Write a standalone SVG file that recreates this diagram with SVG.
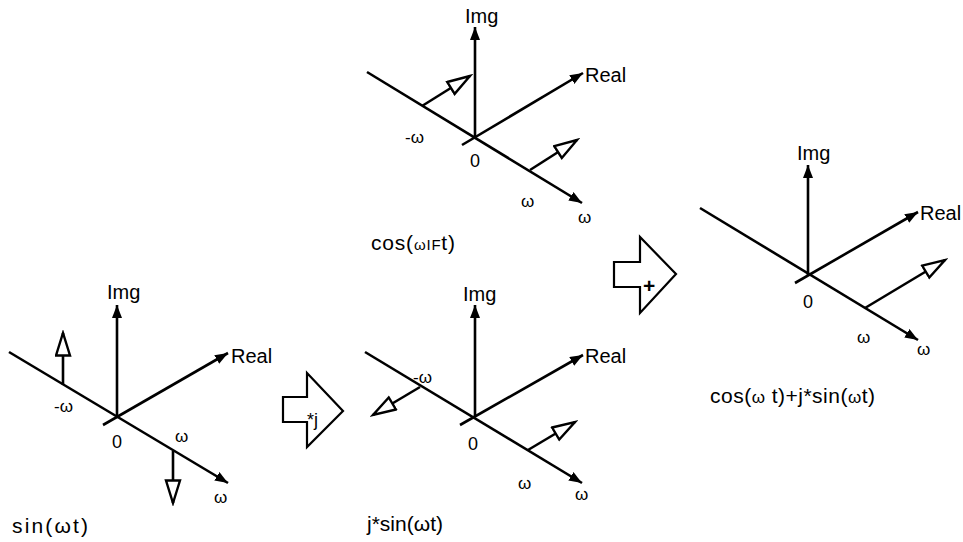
<svg xmlns="http://www.w3.org/2000/svg" width="963" height="542" viewBox="0 0 963 542">
  <style>
    .ax { stroke: #000; stroke-width: 2.6; fill: none; }
    .ax-end { marker-end: url(#tip); }
    .ph { stroke: #000; stroke-width: 2.6; fill: none; marker-end: url(#hollow); }
    .lbl { font-family: "Liberation Sans", Arial, sans-serif; font-size: 20px; fill: #000; }
    .zero { font-family: "Liberation Sans", Arial, sans-serif; font-size: 18px; fill: #000; }
    .w { font-family: "Liberation Sans", Arial, sans-serif; font-size: 17px; fill: #000; }
    .cap { font-family: "Liberation Sans", Arial, sans-serif; font-size: 21px; fill: #000; }
    .blk { fill: #fff; stroke: #000; stroke-width: 2.2; stroke-linejoin: miter; }
  </style>
  <defs>
    <marker id="tip" markerUnits="userSpaceOnUse" markerWidth="14" markerHeight="10" refX="13" refY="5" orient="auto">
      <path d="M0,0 L13,5 L0,10 z" fill="#000"/>
    </marker>
    <marker id="hollow" markerUnits="userSpaceOnUse" markerWidth="27" markerHeight="18" refX="24" refY="8.5" orient="auto">
      <path d="M1.5,1.5 L24,8.5 L1.5,15.5 z" fill="#fff" stroke="#000" stroke-width="2.4" stroke-linejoin="miter"/>
    </marker>
  </defs>

  <rect width="963" height="542" fill="#fff"/>

  <!-- sin(wt) spectrum -->
  <g id="sin">
    <line class="ax ax-end" x1="117" y1="417" x2="117" y2="305"/>
    <line class="ax ax-end" x1="103" y1="425" x2="228" y2="353"/>
    <line class="ax ax-end" x1="9" y1="352" x2="228" y2="483"/>
    <line class="ph" x1="63" y1="385" x2="63" y2="333"/>
    <line class="ph" x1="173" y1="451" x2="173" y2="503"/>
    <text class="lbl" x="107" y="299">Img</text>
    <text class="lbl" x="231" y="363">Real</text>
    <text class="zero" x="112" y="448">0</text>
    <text class="w" x="54" y="412">-ω</text>
    <text class="w" x="175" y="442">ω</text>
    <text class="w" x="214" y="503">ω</text>
    <text class="cap" x="12" y="533" textLength="76">sin(ωt)</text>
  </g>

  <!-- cos(wIF t) spectrum -->
  <g id="cos">
    <line class="ax ax-end" x1="475" y1="137" x2="475" y2="27"/>
    <line class="ax ax-end" x1="462" y1="145" x2="583" y2="73"/>
    <line class="ax ax-end" x1="367" y1="72" x2="582" y2="203"/>
    <line class="ph" x1="422" y1="106" x2="470" y2="76"/>
    <line class="ph" x1="530" y1="170" x2="577" y2="140"/>
    <text class="lbl" x="465" y="23">Img</text>
    <text class="lbl" x="585" y="82">Real</text>
    <text class="zero" x="470" y="167">0</text>
    <text class="w" x="405" y="143">-ω</text>
    <text class="w" x="521" y="207">ω</text>
    <text class="w" x="578" y="223">ω</text>
    <text class="cap" x="371" y="250" textLength="84">cos(<tspan font-size="15">ωIF</tspan>t)</text>
  </g>

  <!-- j*sin(wt) spectrum -->
  <g id="jsin">
    <line class="ax ax-end" x1="475" y1="417" x2="475" y2="305"/>
    <line class="ax ax-end" x1="460" y1="425" x2="583" y2="355"/>
    <line class="ax ax-end" x1="365" y1="352" x2="582" y2="483"/>
    <line class="ph" x1="420" y1="387" x2="373" y2="415"/>
    <line class="ph" x1="528" y1="450" x2="575" y2="422"/>
    <text class="lbl" x="463" y="301">Img</text>
    <text class="lbl" x="585" y="363">Real</text>
    <text class="zero" x="468" y="450">0</text>
    <text class="w" x="413" y="383">-ω</text>
    <text class="w" x="518" y="489">ω</text>
    <text class="w" x="575" y="500">ω</text>
    <text class="cap" x="367" y="531" textLength="76">j*sin(ωt)</text>
  </g>

  <!-- cos(wt)+j*sin(wt) spectrum -->
  <g id="sum">
    <line class="ax ax-end" x1="808" y1="275" x2="808" y2="165"/>
    <line class="ax ax-end" x1="795" y1="283" x2="918" y2="212"/>
    <line class="ax ax-end" x1="700" y1="208" x2="918" y2="340"/>
    <line class="ph" x1="865" y1="308" x2="945" y2="260"/>
    <text class="lbl" x="797" y="160">Img</text>
    <text class="lbl" x="920" y="220">Real</text>
    <text class="zero" x="803" y="308">0</text>
    <text class="w" x="857" y="343">ω</text>
    <text class="w" x="917" y="355">ω</text>
    <text class="cap" x="710" y="403" textLength="165">cos(<tspan font-size="17">ω</tspan> t)+j*sin(<tspan font-size="17">ω</tspan>t)</text>
  </g>

  <!-- operation arrows between spectra -->
  <g id="connectors">
    <g id="op-j">
      <path class="blk" d="M283,397 L307,397 L307,373 L343,411 L307,447 L307,422 L283,422 Z"/>
      <text class="zero" x="307" y="426" font-size="16">*j</text>
    </g>
    <g id="op-plus">
      <path class="blk" d="M614,262 L640,262 L640,237 L676,274 L640,313 L640,287 L614,287 Z"/>
      <text x="643" y="293" font-family="Liberation Sans, Arial, sans-serif" font-size="21" font-weight="bold">+</text>
    </g>
  </g>
</svg>
